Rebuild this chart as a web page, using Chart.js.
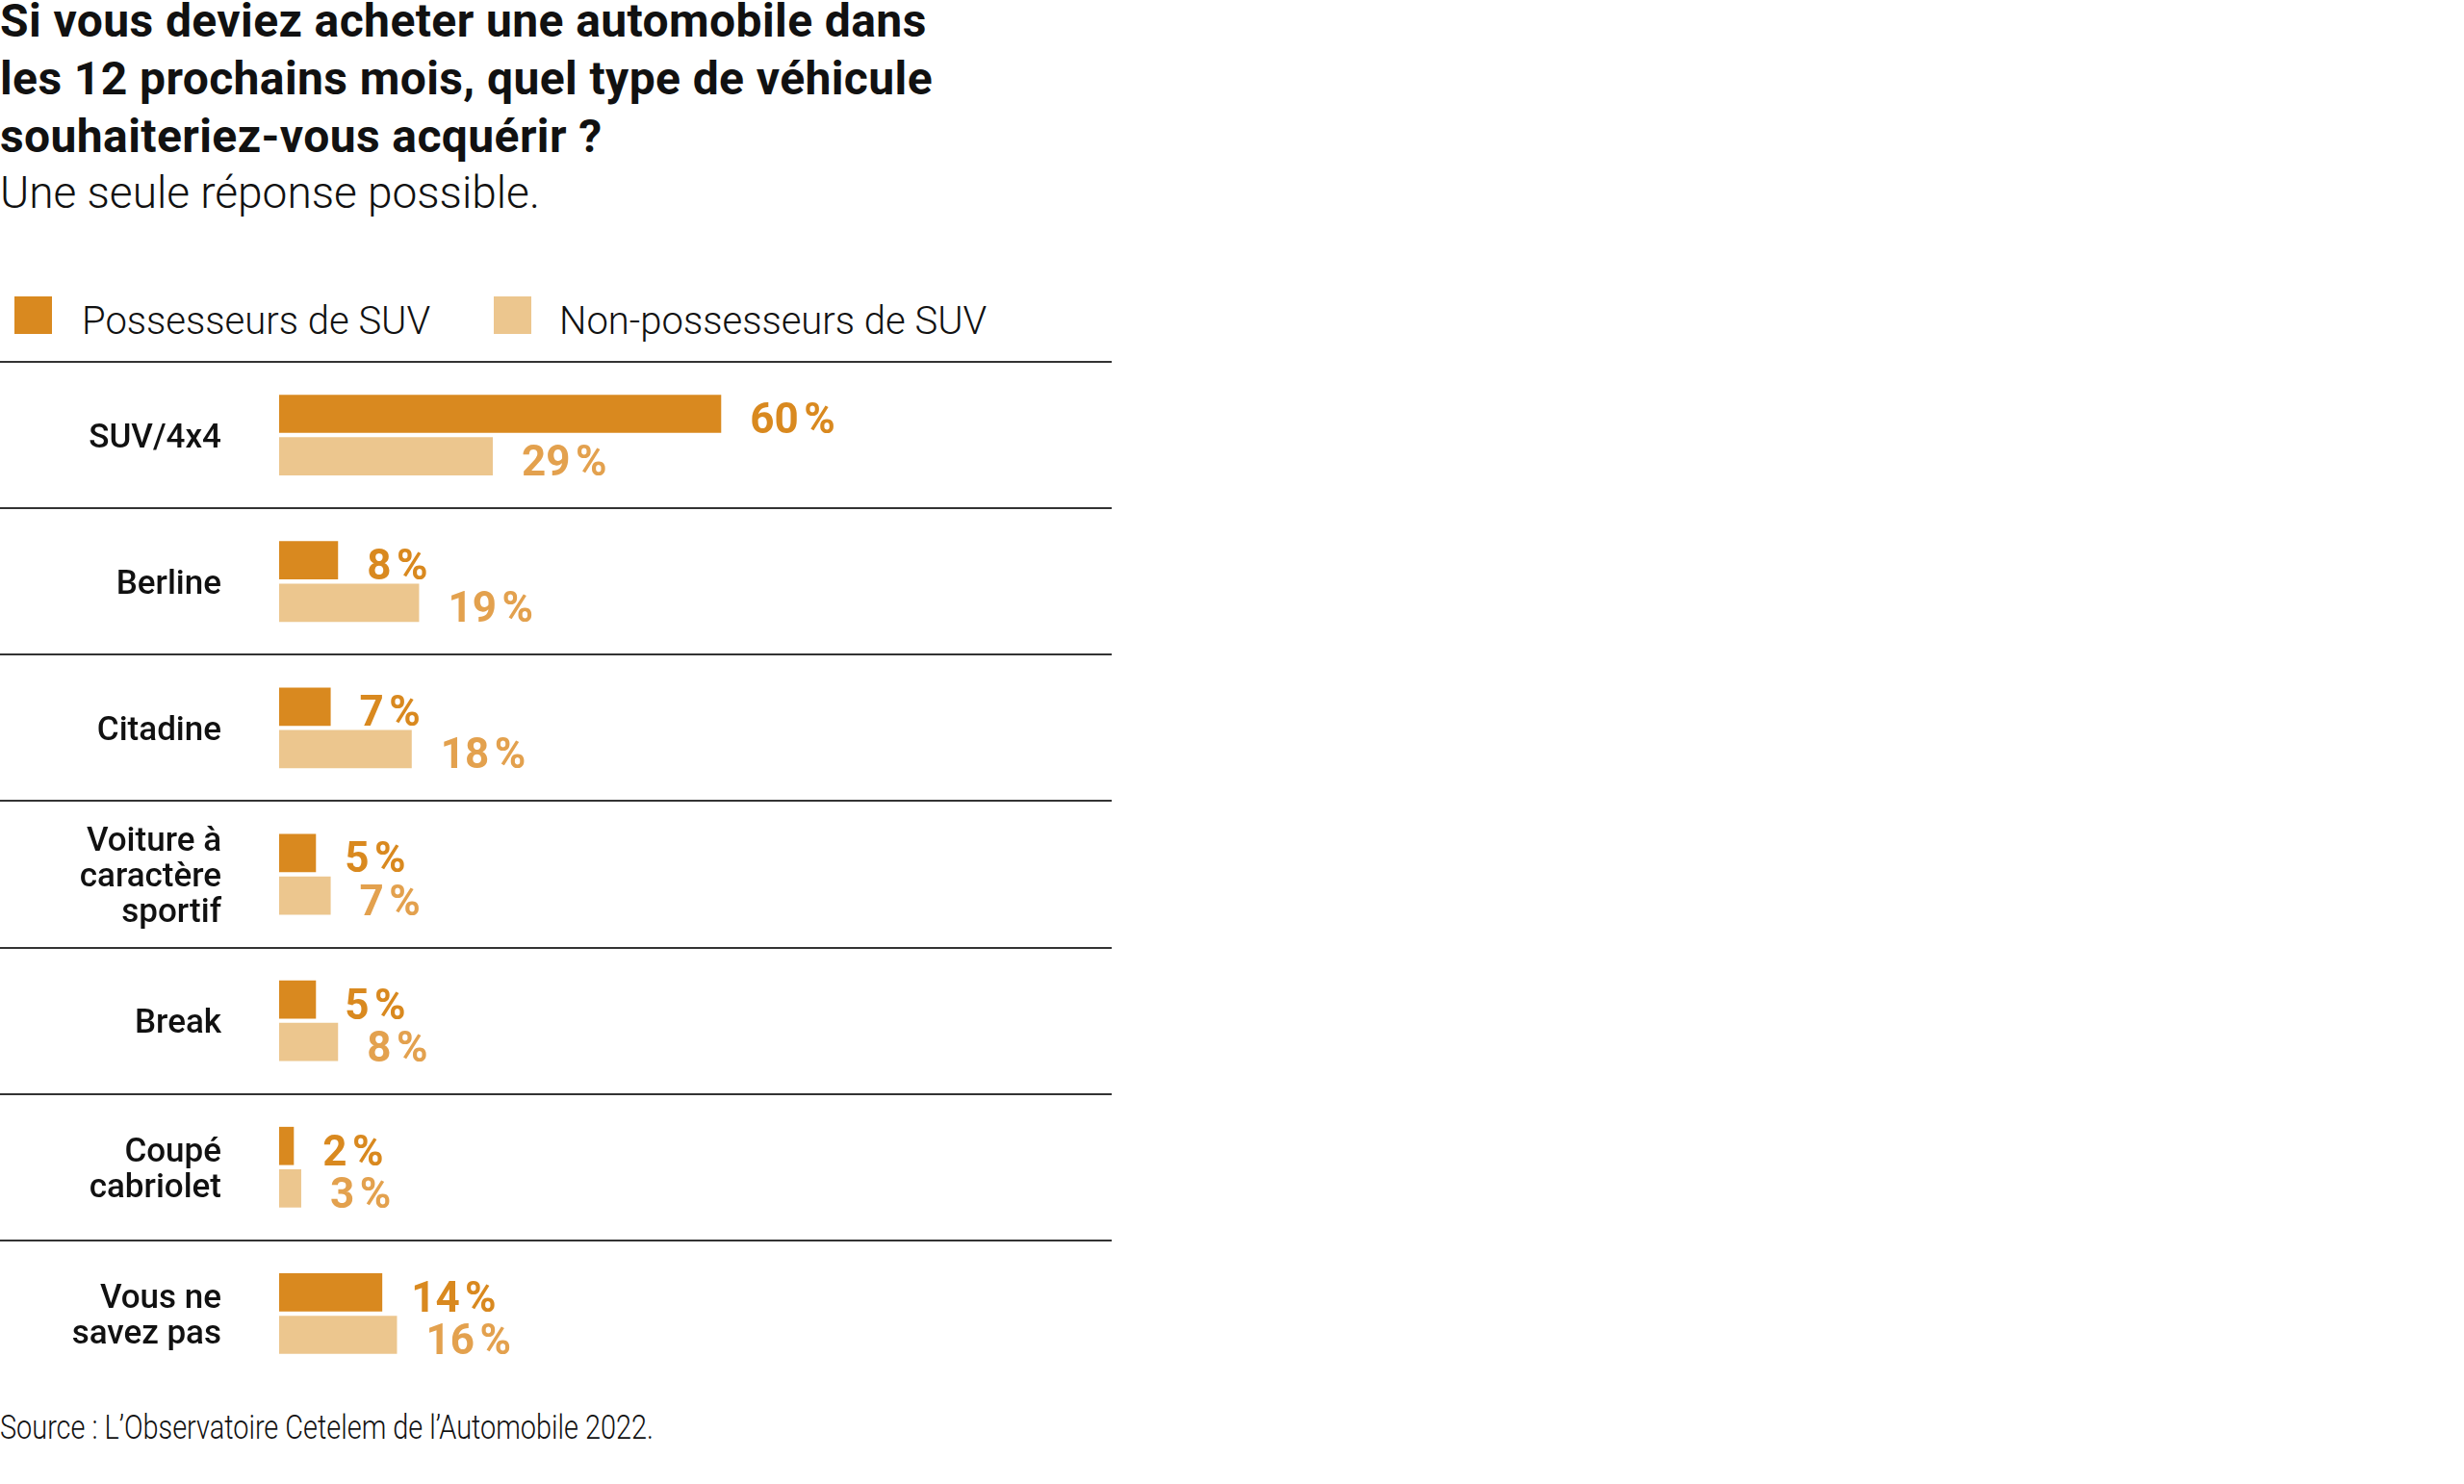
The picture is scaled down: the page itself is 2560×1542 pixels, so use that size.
<!DOCTYPE html>
<html lang="fr">
<head>
<meta charset="utf-8">
<script src="https://cdn.jsdelivr.net/npm/chart.js@4/dist/chart.umd.min.js"></script>
<style>
  html, body { margin: 0; padding: 0; background: #fff; }
  body { width: 2560px; height: 1542px; position: relative; overflow: hidden; font-family: Roboto, "Noto Sans", sans-serif; color: #111; }
  #title { position: absolute; left: 0; top: -8px; font-weight: 700; font-size: 48px; line-height: 60px; letter-spacing: 0.4px; white-space: nowrap; }
  #subtitle { position: absolute; left: 0; top: 173px; font-weight: 300; font-size: 46px; line-height: 54px; white-space: nowrap; }
  #legend { position: absolute; left: 0; top: 0; }
  .lg-box { position: absolute; width: 39px; height: 39px; top: 308px; }
  .lg-text { position: absolute; top: 310px; font-weight: 300; font-size: 40px; line-height: 48px; white-space: nowrap; }
  #source { position: absolute; left: 0; top: 1463px; font-weight: 300; font-size: 35px; line-height: 42px; white-space: nowrap; transform-origin: 0 0; transform: scaleX(0.825); }
  #wrap { position: absolute; left: 0; top: 366px; width: 1160px; height: 1085px; }
</style>
</head>
<body>
<div id="title">Si vous deviez acheter une automobile dans<br>les 12 prochains mois, quel type de véhicule<br>souhaiteriez-vous acquérir ?</div>
<div id="subtitle">Une seule réponse possible.</div>
<div id="legend"></div>
<div id="wrap"><canvas id="c"></canvas></div>
<div id="source">Source : L’Observatoire Cetelem de l’Automobile 2022.</div>
<script>
// ---- Data ----
const categories = [
  'SUV/4x4',
  'Berline',
  'Citadine',
  ['Voiture à', 'caractère', 'sportif'],
  'Break',
  ['Coupé', 'cabriolet'],
  ['Vous ne', 'savez pas']
];
const seriesNames = ['Possesseurs de SUV', 'Non-possesseurs de SUV'];
const ownersSUV = [60, 8, 7, 5, 5, 2, 14];
const nonOwnersSUV = [29, 19, 18, 7, 8, 3, 16];

// ---- Styles ----
const barColors = ['#d9891f', '#ecc68e'];
const labelColors = ['#d9891f', '#e3a14e'];

// Legend (HTML)
const legend = document.getElementById('legend');
const legendPos = [{box: 15, text: 85}, {box: 513, text: 581}];
seriesNames.forEach((name, i) => {
  const b = document.createElement('div');
  b.className = 'lg-box';
  b.style.left = legendPos[i].box + 'px';
  b.style.background = barColors[i];
  legend.appendChild(b);
  const t = document.createElement('div');
  t.className = 'lg-text';
  t.style.left = legendPos[i].text + 'px';
  t.textContent = name;
  legend.appendChild(t);
});

const valueLabels = {
  id: 'valueLabels',
  afterDatasetsDraw(chart) {
    const ctx = chart.ctx;
    ctx.save();
    ctx.font = '700 44px Roboto, "Noto Sans", sans-serif';
    ctx.textAlign = 'left';
    ctx.textBaseline = 'alphabetic';
    chart.data.datasets.forEach((ds, di) => {
      const meta = chart.getDatasetMeta(di);
      ctx.fillStyle = labelColors[di];
      meta.data.forEach((bar, i) => {
        ctx.fillText(ds.data[i] + '\u202F%', bar.x + 30, bar.y + 20);
      });
    });
    ctx.restore();
  }
};

new Chart(document.getElementById('c'), {
  type: 'bar',
  data: {
    labels: categories,
    datasets: [
      { label: seriesNames[0], data: ownersSUV, backgroundColor: barColors[0], borderWidth: 0,
        barPercentage: 0.9, categoryPercentage: 0.58 },
      { label: seriesNames[1], data: nonOwnersSUV, backgroundColor: barColors[1], borderWidth: 0,
        barPercentage: 0.9, categoryPercentage: 0.58 }
    ]
  },
  options: {
    indexAxis: 'y',
    responsive: true,
    maintainAspectRatio: false,
    animation: false,
    layout: { padding: { top: 10, bottom: 10, left: 0, right: 5 } },
    plugins: { legend: { display: false }, tooltip: { enabled: false }, title: { display: false } },
    scales: {
      x: { display: false, min: 0, max: 113 },
      y: {
        afterFit(scale) { scale.width = 290; },
        border: { display: false },
        grid: {
          offset: true,
          drawOnChartArea: true,
          drawTicks: true,
          tickLength: 290,
          lineWidth: 2,
          color: (c) => (c.type === 'tick' ? '#333333' : 'rgba(0,0,0,0)')
        },
        ticks: {
          padding: -230,
          labelOffset: 4,
          color: '#111111',
          font: { family: 'Roboto, "Noto Sans", sans-serif', size: 35, weight: '500', lineHeight: '37px' }
        }
      }
    }
  },
  plugins: [valueLabels]
});
</script>
</body>
</html>
